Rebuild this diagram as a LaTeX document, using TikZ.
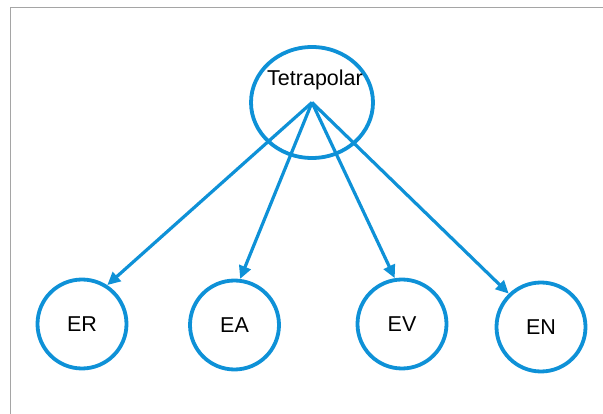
\documentclass[tikz,border=0pt]{standalone}
\usepackage{fontspec}
\setmainfont{Liberation Sans}
\usetikzlibrary{shapes.geometric,arrows.meta}
\definecolor{polblue}{RGB}{14,145,215}
\definecolor{framegray}{RGB}{165,165,165}
\tikzset{
  hub/.style={draw=polblue, line width=3.8pt, ellipse, minimum width=122pt, minimum height=111pt, inner sep=0pt},
  leaf/.style={draw=polblue, line width=3.8pt, circle, minimum size=89pt, inner sep=0pt, font=\fontsize{21.5}{25}\selectfont},
  conn/.style={draw=polblue, line width=3.2pt, -{Triangle[length=13pt,width=12pt]}}
}
\begin{document}
\begin{tikzpicture}[x=1pt, y=-1pt]
    \useasboundingbox (0,0) rectangle (603,414);
    \draw[framegray, line width=1.5pt] (10.5,414) -- (10.5,7.5) -- (603,7.5);

    \node[hub] (tp) at (312,102.5) {};
    \node[font=\fontsize{21.5}{25}\selectfont, inner sep=0pt] (tptext) at (315,80) {Tetrapolar};

    \node[leaf] (er) at (82,324) {ER};
    \node[leaf] (ea) at (234.5,325) {EA};
    \node[leaf] (ev) at (402,324) {EV};
    \node[leaf] (en) at (541,327) {EN};

    \draw[conn] (tp.center) -- (er.57);
    \draw[conn] (tp.center) -- (ea.83);
    \draw[conn] (tp.center) -- (ev.99);
    \draw[conn] (tp.center) -- (en.134);
\end{tikzpicture}
\end{document}
